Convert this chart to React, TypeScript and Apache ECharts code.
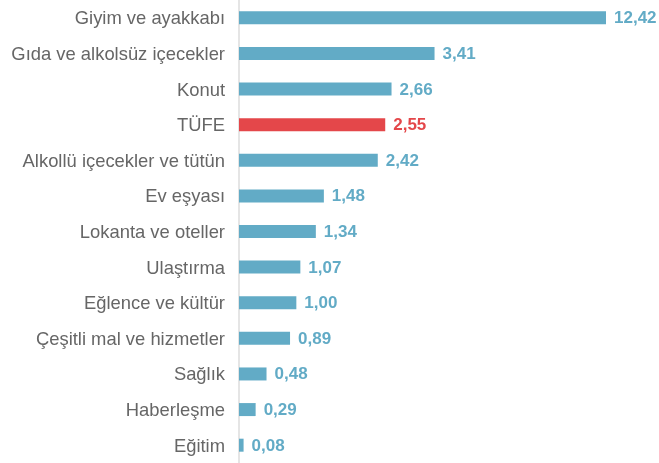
import React, { useEffect, useRef } from "react";
import * as echarts from "echarts";

const categories = [
  "Giyim ve ayakkabı",
  "Gıda ve alkolsüz içecekler",
  "Konut",
  "TÜFE",
  "Alkollü içecekler ve tütün",
  "Ev eşyası",
  "Lokanta ve oteller",
  "Ulaştırma",
  "Eğlence ve kültür",
  "Çeşitli mal ve hizmetler",
  "Sağlık",
  "Haberleşme",
  "Eğitim",
];
const values = [12.42, 3.41, 2.66, 2.55, 2.42, 1.48, 1.34, 1.07, 1.0, 0.89, 0.48, 0.29, 0.08];
const highlight = "TÜFE";

const BLUE = "#62abc6";
const RED = "#e4474a";

export default function App() {
  const ref = useRef<HTMLDivElement>(null);
  useEffect(() => {
    if (!ref.current) return;
    const chart = echarts.init(ref.current, undefined, { renderer: "svg" });
    chart.setOption({
      animation: false,
      grid: { left: 239, right: 53, top: 0, bottom: 0, containLabel: false },
      xAxis: {
        type: "value",
        min: 0,
        max: 6.4,
        show: false,
      },
      yAxis: {
        type: "category",
        data: categories,
        inverse: true,
        axisLine: { show: true, lineStyle: { color: "#dcdcdc", width: 1.5 } },
        axisTick: { show: false },
        axisLabel: {
          margin: 14,
          fontFamily: "Liberation Sans, Arial, sans-serif",
          fontSize: 18.4,
          color: "#666666",
        },
      },
      series: [
        {
          type: "bar",
          barWidth: 13,
          clip: true,
          data: values.map((v, i) => {
            const c = categories[i] === highlight ? RED : BLUE;
            return {
              value: v,
              itemStyle: { color: c },
              label: { color: c },
            };
          }),
          label: {
            show: true,
            position: "right",
            distance: 8,
            fontFamily: "Liberation Sans, Arial, sans-serif",
            fontSize: 17,
            fontWeight: "bold",
            formatter: (p: any) => Number(p.value).toFixed(2).replace(".", ","),
          },
        },
      ],
    });
    return () => chart.dispose();
  }, []);
  return (
    <div
      ref={ref}
      style={{ position: "fixed", left: 0, top: 0, width: 659, height: 463 }}
    />
  );
}
